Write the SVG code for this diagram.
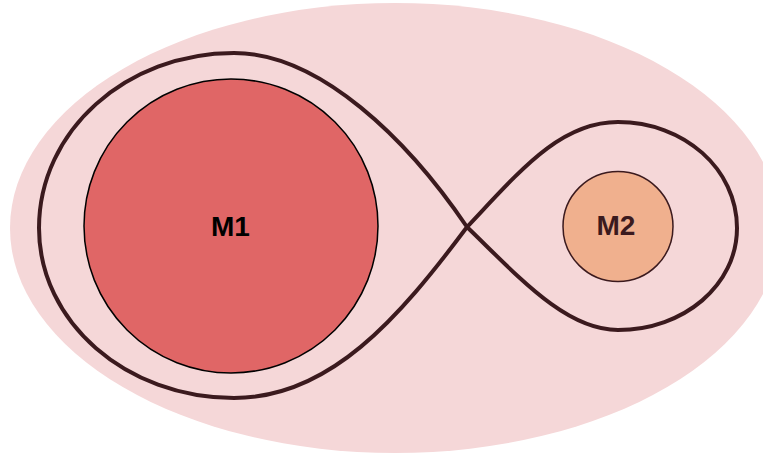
<svg xmlns="http://www.w3.org/2000/svg" width="763" height="457" viewBox="0 0 763 457">
<style>
.lbl{font-family:"Liberation Sans",Arial,sans-serif;font-weight:bold;text-anchor:middle;font-size:28px}
.lobe{fill:none;stroke:#3b1a1e;stroke-width:4;stroke-linejoin:round}
</style>
<rect width="763" height="457" fill="#ffffff"/>
<ellipse id="envelope" cx="395" cy="228" rx="385" ry="225" fill="#f5d7d8"/>
<g id="connectors">
<path class="lobe" d="M467 227 C408 140 320 53 234 53 C126 53 39 131 39 228 C39 322 126 398 234 398 C330 398 399 318 467 227 Z"/>
<path class="lobe" d="M467 227 C520 171 560 122 618 122 C684 122 737 169 737 228 C737 285 684 330 618 330 C565 330 517 275 467 227 Z"/>
</g>
<g id="M1">
<circle cx="231" cy="226" r="147" fill="#e06666" stroke="#000" stroke-width="1.5"/>
<text class="lbl" x="230.5" y="236" fill="#000">M1</text>
</g>
<g id="M2">
<circle cx="618" cy="226.5" r="55" fill="#f0b08e" stroke="#3b1a1e" stroke-width="1.5"/>
<text class="lbl" x="616" y="235" fill="#3b1a1e">M2</text>
</g>
</svg>
